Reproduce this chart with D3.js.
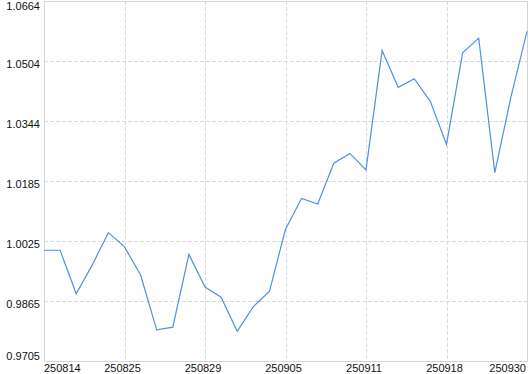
<!DOCTYPE html>
<meta charset="utf-8">
<html>

<head>
    <title>Net value</title>
    <style>
        body { margin: 0; background: #fff; }
    </style>
</head>

<body>
    <div id="container"></div>

    <script src="https://d3js.org/d3.v7.min.js"></script>

    <script>
        // values, one per trading day
        const values = [
            1.0000, 1.0000, 0.9884, 0.9961, 1.0047, 1.0009, 0.9934, 0.9788, 0.9795, 0.9989,
            0.9902, 0.9875, 0.9784, 0.9850, 0.9890, 1.0056, 1.0138, 1.0123, 1.0232, 1.0258,
            1.0214, 1.0532, 1.0434, 1.0457, 1.0396, 1.0282, 1.0526, 1.0565, 1.0207, 1.0408,
            1.0583
        ];

        // x tick labels and the point index each one sits on
        const xTickIndex = [0, 5, 10, 15, 20, 25, 30];
        const xTickLabels = ["250814", "250825", "250829", "250905", "250911", "250918", "250930"];

        // y tick labels (bottom to top)
        const yTickLabels = ["0.9705", "0.9865", "1.0025", "1.0185", "1.0344", "1.0504", "1.0664"];

        const width = 530,
            height = 374,
            plotLeft = 44,
            plotRight = 527,
            plotTop = 1,
            plotBottom = 361;

        const svg = d3.select("#container").append("svg")
            .attr("width", width)
            .attr("height", height)
            .style("display", "block");

        const x = d3.scaleLinear()
            .domain([0, values.length - 1])
            .range([plotLeft, plotRight]);

        const yTicks = yTickLabels.map(Number);
        const y = d3.scaleLinear()
            .domain([yTicks[0], yTicks[yTicks.length - 1]])
            .range([plotBottom, plotTop]);

        // dashed grid
        const grid = svg.append("g")
            .attr("stroke", "#dadada")
            .attr("stroke-width", 1)
            .attr("stroke-dasharray", "4,2")
            .attr("shape-rendering", "crispEdges");

        grid.selectAll("line.h")
            .data(yTicks.slice(1, -1))
            .join("line")
            .attr("class", "h")
            .attr("x1", plotLeft)
            .attr("x2", plotRight)
            .attr("y1", d => Math.round(y(d)) + 0.5)
            .attr("y2", d => Math.round(y(d)) + 0.5);

        grid.selectAll("line.v")
            .data(xTickIndex.slice(1, -1))
            .join("line")
            .attr("class", "v")
            .attr("x1", d => Math.round(x(d)) + 0.5)
            .attr("x2", d => Math.round(x(d)) + 0.5)
            .attr("y1", plotTop)
            .attr("y2", plotBottom);

        // frame
        svg.append("rect")
            .attr("x", plotLeft + 0.5)
            .attr("y", plotTop + 0.5)
            .attr("width", plotRight - plotLeft)
            .attr("height", plotBottom - plotTop)
            .attr("fill", "none")
            .attr("stroke", "#d4d4d4")
            .attr("shape-rendering", "crispEdges");

        // series line
        const line = d3.line()
            .x((d, i) => x(i))
            .y(d => y(d));

        svg.append("path")
            .datum(values)
            .attr("d", line)
            .attr("fill", "none")
            .attr("stroke", "#4f8fe8")
            .attr("stroke-width", 1.2);

        // y labels, kept inside the window at the ends
        svg.append("g")
            .attr("font-family", "'Liberation Sans', Arial, sans-serif")
            .attr("font-size", 11)
            .attr("fill", "#111")
            .attr("text-anchor", "end")
            .selectAll("text")
            .data(yTicks)
            .join("text")
            .attr("x", 40)
            .attr("y", d => Math.min(Math.max(y(d) + 7, 10), 360))
            .text((d, i) => yTickLabels[i]);

        // x labels
        svg.append("g")
            .attr("font-family", "'Liberation Sans', Arial, sans-serif")
            .attr("font-size", 11)
            .attr("fill", "#111")
            .selectAll("text")
            .data(xTickIndex)
            .join("text")
            .attr("text-anchor", (d, i) => i === 0 ? "start" : (i === xTickIndex.length - 1 ? "end" : "middle"))
            .attr("x", (d, i) => i === 0 ? plotLeft : (i === xTickIndex.length - 1 ? 526 : x(d) - 2))
            .attr("y", 372)
            .text((d, i) => xTickLabels[i]);
    </script>
</body>

</html>
